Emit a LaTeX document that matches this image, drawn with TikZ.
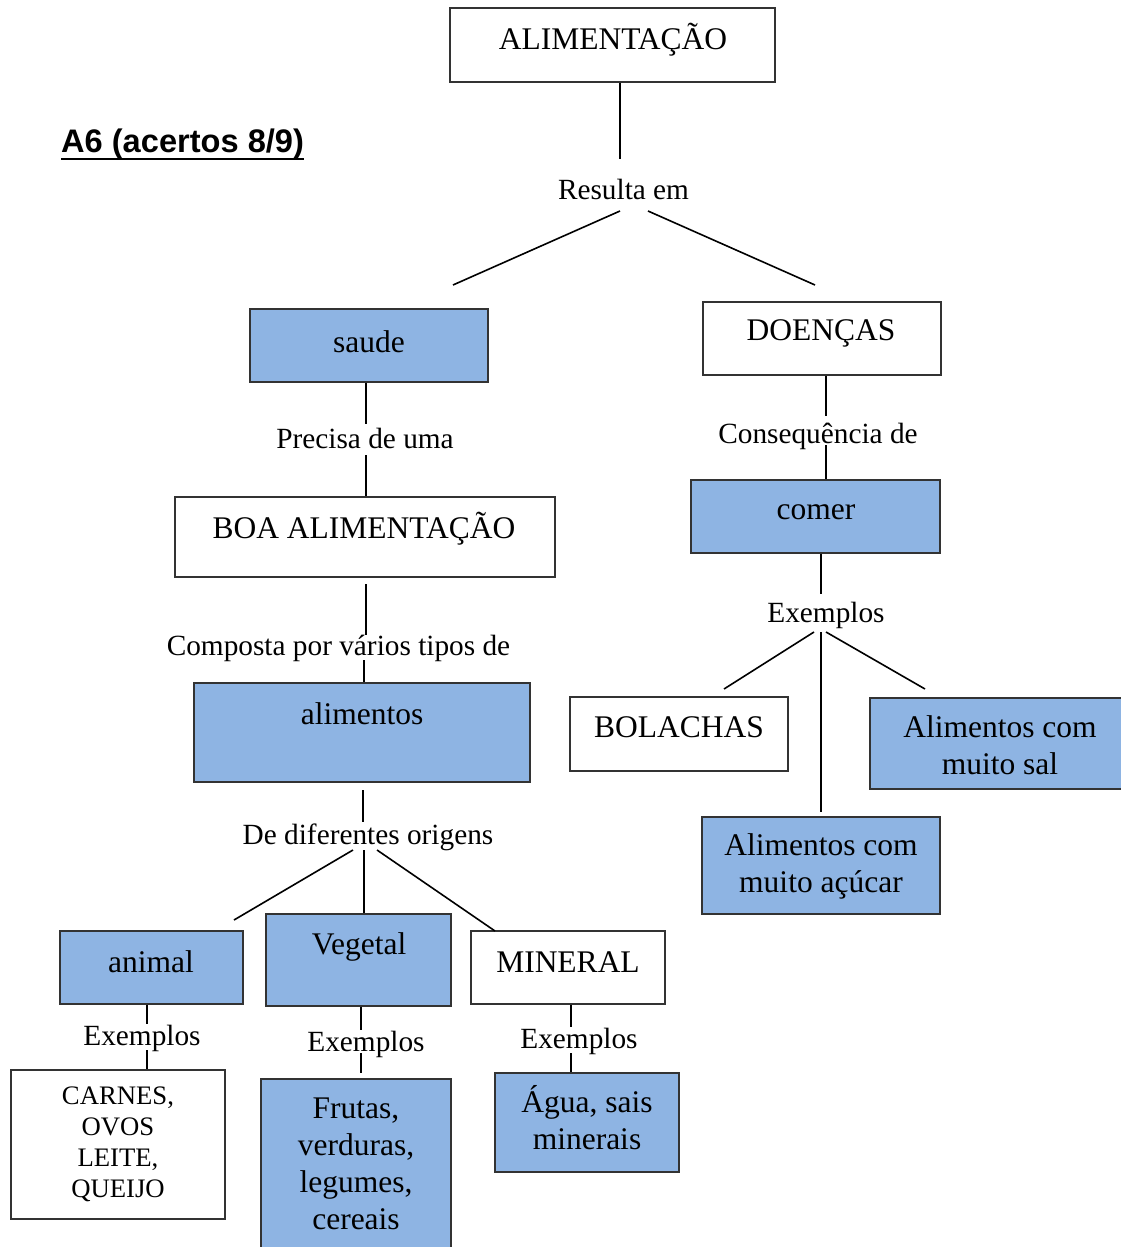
\documentclass[tikz,border=0pt]{standalone}
\usepackage{fontspec}
\setmainfont{Liberation Serif}
\newfontfamily\headfont{Liberation Sans}
\definecolor{nodeblue}{HTML}{8EB4E3}
\definecolor{edge}{HTML}{333333}
\newcommand\mlines[1]{\begin{tabular}[t]{@{}c@{}}#1\end{tabular}}

\tikzset{
  box/.style={draw=edge, line width=1.3pt, rectangle, inner sep=0pt},
  bluebox/.style={box, fill=nodeblue},
  txt/.style={anchor=base, inner sep=0pt, font=\fontsize{31.5}{37}\selectfont},
  smalltxt/.style={anchor=base, inner sep=0pt, font=\fontsize{26.7}{31}\selectfont},
  lbl/.style={anchor=base, inner sep=0pt, font=\fontsize{29.3}{34}\selectfont},
  conn/.style={line width=1.6pt, black},
}

\begin{document}
\begin{tikzpicture}[x=1pt, y=-1pt]
\useasboundingbox (0,0) rectangle (1120,1247);
\fill[white] (0,0) rectangle (1120,1247);

% ---- heading
\node[anchor=base west, inner sep=0pt, font=\headfont\bfseries\fontsize{32.6}{38}\selectfont] (head) at (61,152) {A6 (acertos 8/9)};
\draw[line width=2.6pt] ([yshift=-7pt]head.base west) -- ([yshift=-7pt]head.base east);

% ---- boxes
\node[box,      minimum width=325, minimum height=74]  (alim)    at (612.5,45) {};
\node[bluebox,  minimum width=238, minimum height=73]  (saude)   at (369,345.5) {};
\node[box,      minimum width=238, minimum height=73]  (doen)    at (822,338.5) {};
\node[box,      minimum width=380, minimum height=80]  (boa)     at (365,537) {};
\node[bluebox,  minimum width=249, minimum height=73]  (comer)   at (815.5,516.5) {};
\node[bluebox,  minimum width=336, minimum height=99]  (alimentos) at (362,732.5) {};
\node[box,      minimum width=218, minimum height=74]  (bolachas) at (679,734) {};
\node[bluebox,  minimum width=252, minimum height=91]  (sal)     at (996,743.5) {};
\node[bluebox,  minimum width=238, minimum height=97]  (acucar)  at (821,865.5) {};
\node[bluebox,  minimum width=183, minimum height=73]  (animal)  at (151.5,967.5) {};
\node[bluebox,  minimum width=185, minimum height=92]  (vegetal) at (358.5,960) {};
\node[box,      minimum width=194, minimum height=73]  (mineral) at (568,967.5) {};
\node[box,      minimum width=214, minimum height=149] (carnes)  at (118,1144.5) {};
\node[bluebox,  minimum width=190, minimum height=181] (frutas)  at (356,1169.5) {};
\node[bluebox,  minimum width=184, minimum height=99]  (agua)    at (587,1122.5) {};

% ---- box texts
\node[txt] (t-alim)     at (613,50)   {ALIMENTAÇÃO};
\node[txt] (t-saude)    at (369,352)  {saude};
\node[txt] (t-doen)     at (821,340)  {DOENÇAS};
\node[txt] (t-boa)      at (364,538)  {BOA ALIMENTAÇÃO};
\node[txt] (t-comer)    at (816,519)  {comer};
\node[txt] (t-alimentos) at (362,724) {alimentos};
\node[txt] (t-bolachas) at (679,737)  {BOLACHAS};
\node[txt] (t-sal)      at (1000,737) {\mlines{Alimentos com\\muito sal}};
\node[txt] (t-acucar)   at (821,855)  {\mlines{Alimentos com\\muito açúcar}};
\node[txt] (t-animal)   at (151,972)  {animal};
\node[txt] (t-vegetal)  at (359,954)  {Vegetal};
\node[txt] (t-mineral)  at (568,972)  {MINERAL};
\node[smalltxt] (t-carnes) at (118,1104) {\mlines{CARNES,\\OVOS\\LEITE,\\QUEIJO}};
\node[txt] (t-frutas)   at (356,1118) {\mlines{Frutas,\\verduras,\\legumes,\\cereais}};
\node[txt] (t-agua)     at (587,1112) {\mlines{Água, sais\\minerais}};

% ---- link phrases
\node[lbl] (resulta) at (623.5,199) {Resulta em};
\node[lbl] (precisa) at (365,448)   {Precisa de uma};
\node[lbl] (conseq)  at (818,443)   {Consequência de};
\node[lbl] (exc)     at (826,622)   {Exemplos};
\node[lbl] (compo)   at (338.5,655) {Composta por vários tipos de};
\node[lbl] (origens) at (368,844)   {De diferentes origens};
\node[lbl] (exa)     at (142,1045)  {Exemplos};
\node[lbl] (exv)     at (366,1051)  {Exemplos};
\node[lbl] (exm)     at (579,1048)  {Exemplos};

% ---- free ends of connectors
\coordinate (res-in)  at (620,159);
\coordinate (res-l)   at (620,211);
\coordinate (res-r)   at (648,211);
\coordinate (sau-in)  at (453,285);
\coordinate (doe-in)  at (815,285);
\coordinate (pre-in)  at (366,424);
\coordinate (pre-out) at (366,455);
\coordinate (con-in)  at (826,416);
\coordinate (con-out) at (826,445);
\coordinate (exc-in)  at (821,594);
\coordinate (exc-l)   at (814,632);
\coordinate (exc-m)   at (821,632);
\coordinate (exc-r)   at (826,632);
\coordinate (bol-in)  at (724,689);
\coordinate (acu-in)  at (821,812);
\coordinate (sal-in)  at (925,689);
\coordinate (boa-out) at (366,584);
\coordinate (com-in)  at (366,635);
\coordinate (com-out) at (364,660);
\coordinate (ali-out) at (363,790);
\coordinate (ori-in)  at (363,822);
\coordinate (ori-l)   at (353,850);
\coordinate (ori-m)   at (364,850);
\coordinate (ori-r)   at (377,850);
\coordinate (ani-in)  at (234,920);
\coordinate (min-in)  at (495,931);
\coordinate (exa-in)  at (147,1024);
\coordinate (exa-out) at (147,1050);
\coordinate (exv-in)  at (361,1030);
\coordinate (exv-out) at (361,1053);
\coordinate (fru-in)  at (361,1073);
\coordinate (exm-in)  at (571,1027);
\coordinate (exm-out) at (571,1053);

% ---- connectors
\draw[conn] (alim.south -| res-in) -- (res-in);
\draw[conn] (res-l) -- (sau-in);
\draw[conn] (res-r) -- (doe-in);
\draw[conn] (saude.south -| pre-in) -- (pre-in);
\draw[conn] (pre-out) -- (boa.north -| pre-out);
\draw[conn] (doen.south -| con-in) -- (con-in);
\draw[conn] (con-out) -- (comer.north -| con-out);
\draw[conn] (comer.south -| exc-in) -- (exc-in);
\draw[conn] (exc-l) -- (bol-in);
\draw[conn] (exc-m) -- (acu-in);
\draw[conn] (exc-r) -- (sal-in);
\draw[conn] (boa-out) -- (com-in);
\draw[conn] (com-out) -- (alimentos.north -| com-out);
\draw[conn] (ali-out) -- (ori-in);
\draw[conn] (ori-l) -- (ani-in);
\draw[conn] (ori-m) -- (vegetal.north -| ori-m);
\draw[conn] (ori-r) -- (min-in);
\draw[conn] (animal.south -| exa-in) -- (exa-in);
\draw[conn] (exa-out) -- (carnes.north -| exa-out);
\draw[conn] (vegetal.south -| exv-in) -- (exv-in);
\draw[conn] (exv-out) -- (fru-in);
\draw[conn] (mineral.south -| exm-in) -- (exm-in);
\draw[conn] (exm-out) -- (agua.north -| exm-out);
\end{tikzpicture}
\end{document}
